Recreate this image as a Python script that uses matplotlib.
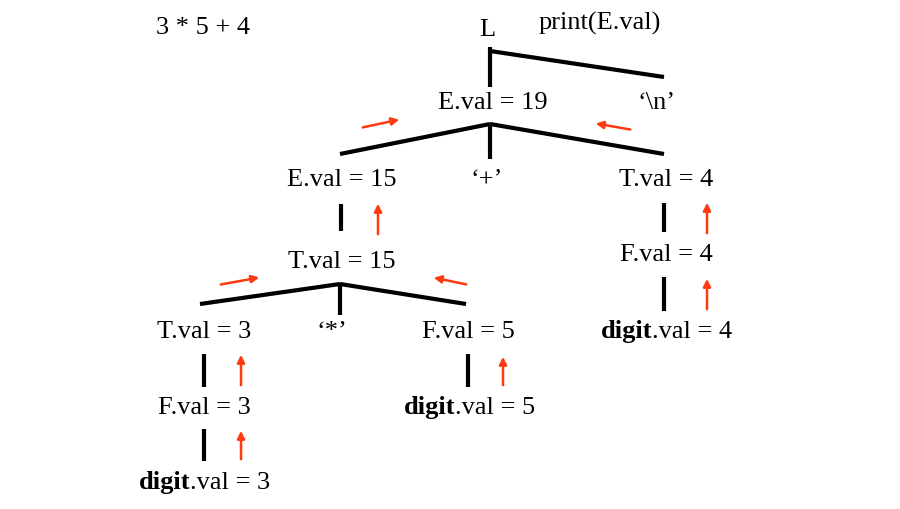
import matplotlib.pyplot as plt
from matplotlib.patches import FancyArrowPatch

plt.rcParams['font.family'] = ['Liberation Serif', 'DejaVu Serif']

# node labels: (text, x, y) in pixel space of the picture
labels = [
    ("3 * 5 + 4", 203, 28),
    ("L", 487, 30),
    ("print(E.val)", 600, 23),
    ("E.val = 19", 493, 103),
    ("\u2018\\n\u2019", 656, 103),
    ("E.val = 15", 342, 180),
    ("\u2018+\u2019", 487, 180),
    ("T.val = 4", 666, 180),
    ("T.val = 15", 342, 262),
    ("F.val = 4", 666, 255),
    ("T.val = 3", 204, 332),
    ("\u2018*\u2019", 332, 332),
    ("F.val = 5", 468, 332),
    ("F.val = 3", 204, 408),
]
# digit nodes: bold "digit" ending at x, then ".val = n"
digit_nodes = [(652, 332, "4"), (455, 408, "5"), (190, 483, "3")]

# tree edges
edges = [
    ((490, 48), (490, 88)), ((490, 52), (664, 78)),
    ((340, 155), (490, 125)), ((490, 125), (490, 160)), ((490, 125), (664, 155)),
    ((341, 205), (341, 232)),
    ((200, 305), (340, 285)), ((340, 285), (340, 316)), ((340, 285), (466, 305)),
    ((204, 355), (204, 388)), ((204, 430), (204, 462)),
    ((468, 355), (468, 388)),
    ((664, 204), (664, 233)), ((664, 278), (664, 312)),
]
# red arrows (from, to)
arrows = [
    ((378, 238), (378, 202)),
    ((241, 389), (241, 353)), ((241, 463), (241, 429)),
    ((503, 389), (503, 355)),
    ((707, 237), (707, 201)), ((707, 313), (707, 277)),
    ((360, 129), (402, 120)), ((633, 131), (593, 124)),
    ((218, 286), (262, 278)), ((469, 286), (431, 278)),
]

fig = plt.figure(figsize=(9, 5.1), dpi=100)
ax = fig.add_axes([0, 0, 1, 1])
ax.set_xlim(0, 900)
ax.set_ylim(510, 0)
ax.axis('off')

fs = 19
for txt, x, y in labels:
    ax.text(x, y, txt, ha='center', va='center', fontsize=fs)
for x, y, n in digit_nodes:
    ax.text(x, y, "digit", ha='right', va='center', fontsize=fs, fontweight='bold')
    ax.text(x, y, ".val = " + n, ha='left', va='center', fontsize=fs)

for (x0, y0), (x1, y1) in edges:
    ax.plot([x0, x1], [y0, y1], color='black', lw=3, solid_capstyle='butt')

for p0, p1 in arrows:
    ax.add_patch(FancyArrowPatch(p0, p1, arrowstyle='-|>', mutation_scale=11,
                                 color='#ff3a10', lw=1.8))

fig.savefig('out.png', dpi=100)
